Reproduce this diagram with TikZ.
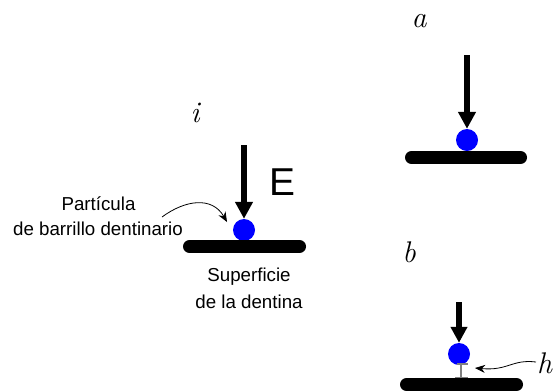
\documentclass[tikz,border=0pt]{standalone}
\usepackage{fontspec}
\setmainfont{Liberation Sans}
\newfontfamily\scr{Latin Modern Roman}
\usetikzlibrary{arrows.meta}
\tikzset{
  force/.style={line width=6bp, -{Triangle[length=17bp,width=17bp]}},
  particle/.style={circle, fill=blue, minimum size=22bp, inner sep=0pt},
  surface/.style={line width=13bp, line cap=round},
  lbl/.style={font=\fontsize{18.8}{22}\selectfont, anchor=base, inner sep=0pt},
  panel/.style={font=\scr\itshape\fontsize{30}{30}\selectfont, anchor=base, inner sep=0pt},
  pointer/.style={line width=0.8bp, -{Stealth[length=10bp,width=8bp]}},
  spacer/.style={gray, line width=1.2bp}
}
\begin{document}
\begin{tikzpicture}[x=1bp, y=-1bp]
\useasboundingbox (0,0) rectangle (555,391);
% panel i
\node[panel] (li) at (195,122) {i};
\coordinate (ti) at (244,145);
\node[particle] (pi) at (244,230) {};
\coordinate (si1) at (189.5,246.5);
\coordinate (si2) at (299.5,246.5);
\draw[surface] (si1) -- (si2);
\draw[force] (ti) -- (pi.north);
\node[font=\fontsize{39}{39}\selectfont, anchor=base, inner sep=0pt] (E) at (282,195) {E};
\node[lbl] (p1) at (98.5,210) {Partícula};
\node[lbl] (p2) at (98,235) {de barrillo dentinario};
\node[lbl] (s1) at (249,281) {Superficie};
\node[lbl] (s2) at (249,308) {de la dentina};
\coordinate (pstart) at (162,217);
\coordinate (pend) at (227,222);
\draw[pointer] (pstart) .. controls (185,200) and (212,196) .. (pend);
% panel a
\node[panel] (la) at (419,27) {a};
\coordinate (ta) at (467,55);
\node[particle] (pa) at (467,140) {};
\coordinate (sa1) at (411.5,157.5);
\coordinate (sa2) at (520.5,157.5);
\draw[surface] (sa1) -- (sa2);
\draw[force] (ta) -- (pa.north);
% panel b
\node[panel] (lb) at (409,262) {b};
\coordinate (tb) at (459,302);
\node[particle] (pb) at (459,354) {};
\coordinate (sb1) at (406.5,384.5);
\coordinate (sb2) at (516.5,384.5);
\draw[surface] (sb1) -- (sb2);
\draw[force, -{Triangle[length=16bp,width=16bp]}] (tb) -- (pb.north);
\coordinate (hv1) at (461,364);
\coordinate (hv2) at (461,377.5);
\draw[spacer] (hv1) -- (hv2);
\draw[spacer] (457,364) -- (468,364);
\draw[spacer] (455,377.5) -- (468,377.5);
\node[panel, anchor=base west] (lh) at (537,373) {h};
\coordinate (hstart) at (536,362);
\coordinate (hend) at (475,368);
\draw[pointer] (hstart) .. controls (512,359) and (508,371) .. (hend);
\end{tikzpicture}
\end{document}
